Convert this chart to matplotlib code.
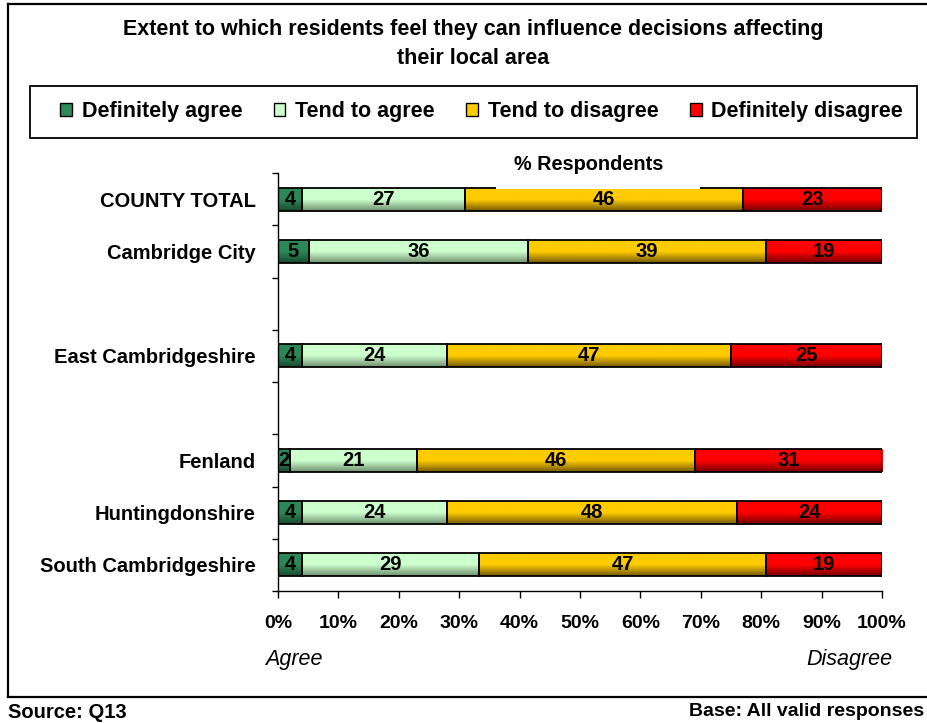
import numpy as np
import matplotlib
matplotlib.use("Agg")
import matplotlib.pyplot as plt
from matplotlib.patches import Patch, Rectangle
from matplotlib.colors import LinearSegmentedColormap

plt.rcParams['font.family'] = ['Liberation Sans', 'DejaVu Sans']

# Districts (blank entries leave a gap row between groups)
areas = ["COUNTY TOTAL", "Cambridge City", "", "East Cambridgeshire", "",
         "Fenland", "Huntingdonshire", "South Cambridgeshire"]

definitely_agree = [4, 5, np.nan, 4, np.nan, 2, 4, 4]
tend_to_agree = [27, 36, np.nan, 24, np.nan, 21, 24, 29]
tend_to_disagree = [46, 39, np.nan, 47, np.nan, 46, 48, 47]
definitely_disagree = [23, 19, np.nan, 25, np.nan, 31, 24, 19]

series_names = ["Definitely agree", "Tend to agree", "Tend to disagree", "Definitely disagree"]
series_values = [definitely_agree, tend_to_agree, tend_to_disagree, definitely_disagree]
flat_colors = ["#2e8b57", "#ccffcc", "#ffcc00", "#ff0000"]
top_colors = ["#2c8856", "#ccffcc", "#ffcc00", "#ff0000"]
bottom_colors = ["#174a30", "#70906f", "#745a00", "#740000"]

x_ticks = [0, 10, 20, 30, 40, 50, 60, 70, 80, 90, 100]
x_tick_labels = ["0%", "10%", "20%", "30%", "40%", "50%", "60%", "70%", "80%", "90%", "100%"]

W, H = 927, 723
fig = plt.figure(figsize=(W / 100, H / 100), dpi=100)
fig.patch.set_facecolor("white")


def fx(px):
    return px / W


def fy(py):
    return 1 - py / H


ax = fig.add_axes([fx(278), fy(591), fx(882) - fx(278), fy(173) - fy(591)])

vals = np.array(series_values, dtype=float)
totals = np.nansum(vals, axis=0)
pct = np.where(totals > 0, vals / np.where(totals > 0, totals, 1) * 100, np.nan)

y = np.arange(len(areas))
bar_h = 0.44
left = np.zeros(len(areas))
for i, name in enumerate(series_names):
    widths = pct[i]
    bars = ax.barh(y, np.nan_to_num(widths), left=left, height=bar_h,
                   facecolor="none", edgecolor="black", linewidth=1.3,
                   zorder=3, label=name)
    cmap = LinearSegmentedColormap.from_list(name, [top_colors[i], top_colors[i], bottom_colors[i]])
    grad = np.linspace(0, 1, 64).reshape(-1, 1)
    for j, patch in enumerate(bars.patches):
        if np.isnan(widths[j]) or widths[j] <= 0:
            continue
        x0, y0 = patch.get_x(), patch.get_y()
        w, h = patch.get_width(), patch.get_height()
        ax.imshow(grad, cmap=cmap, aspect="auto", interpolation="bilinear",
                  extent=(x0, x0 + w, y0 + h, y0), zorder=2)
        ax.text(x0 + w / 2, y[j], f"{vals[i][j]:g}", ha="center", va="center",
                fontsize=14.5, fontweight="bold", color="black", zorder=4)
    left = left + np.nan_to_num(widths)

ax.set_xlim(0, 100)
ax.set_ylim(len(areas) - 0.5, -0.5)
ax.set_xticks(x_ticks)
ax.set_xticklabels(x_tick_labels, fontsize=14, fontweight="bold")
ax.set_yticks(y)
ax.set_yticklabels(areas, fontsize=14.5, fontweight="bold")
ax.set_yticks(np.arange(-0.5, len(areas), 1.0), minor=True)
ax.tick_params(axis="y", which="major", length=0, pad=16)
ax.tick_params(axis="y", which="minor", length=4, width=1, direction="out")
ax.tick_params(axis="x", which="major", length=5, width=1, direction="out", pad=12)
for s in ("top", "right"):
    ax.spines[s].set_visible(False)
for s in ("left", "bottom"):
    ax.spines[s].set_linewidth(1)
ax.set_facecolor("white")

# Outer frame (left, top, bottom edges)
fig.add_artist(plt.Line2D([fx(8), fx(8)], [fy(4), fy(697)], color="black", lw=1.6))
fig.add_artist(plt.Line2D([fx(8), 1.0], [fy(4), fy(4)], color="black", lw=1.6))
fig.add_artist(plt.Line2D([fx(8), 1.0], [fy(697), fy(697)], color="black", lw=1.6))

fig.text(fx(473), fy(30), "Extent to which residents feel they can influence decisions affecting",
         ha="center", va="center", fontsize=15.5, fontweight="bold")
fig.text(fx(473), fy(58), "their local area", ha="center", va="center",
         fontsize=15.5, fontweight="bold")

# Legend: box drawn separately, entries spread across it
fig.add_artist(Rectangle((fx(30), fy(138)), fx(917) - fx(30), fy(86) - fy(138),
                         facecolor="white", edgecolor="black", linewidth=1.3))
handles = [Patch(facecolor=c, edgecolor="black", linewidth=1) for c in flat_colors]
leg = fig.legend(handles, series_names, loc="center", ncol=4, mode="expand",
                 bbox_to_anchor=(fx(60), fy(136), fx(903) - fx(60), fy(88) - fy(136)),
                 prop={"weight": "bold", "size": 15.5}, handlelength=0.55, handleheight=0.55,
                 handletextpad=0.45, columnspacing=1.2, frameon=False, borderaxespad=0,
                 borderpad=0)

# White label box over the plot top
fig.add_artist(Rectangle((fx(496), fy(189)), fx(700) - fx(496), fy(145) - fy(189),
                         facecolor="white", edgecolor="none", zorder=5))
fig.text(fx(589), fy(164), "% Respondents", ha="center", va="center",
         fontsize=14.3, fontweight="bold", zorder=6)

fig.text(fx(265), fy(660), "Agree", ha="left", va="center", fontsize=15.5, style="italic")
fig.text(fx(892), fy(660), "Disagree", ha="right", va="center", fontsize=15.5, style="italic")

fig.text(fx(8), fy(712), "Source: Q13", ha="left", va="center", fontsize=14.5, fontweight="bold")
fig.text(fx(924), fy(712), "Base: All valid responses", ha="right", va="center",
         fontsize=14, fontweight="bold")

fig.savefig("out.png", dpi=100)
